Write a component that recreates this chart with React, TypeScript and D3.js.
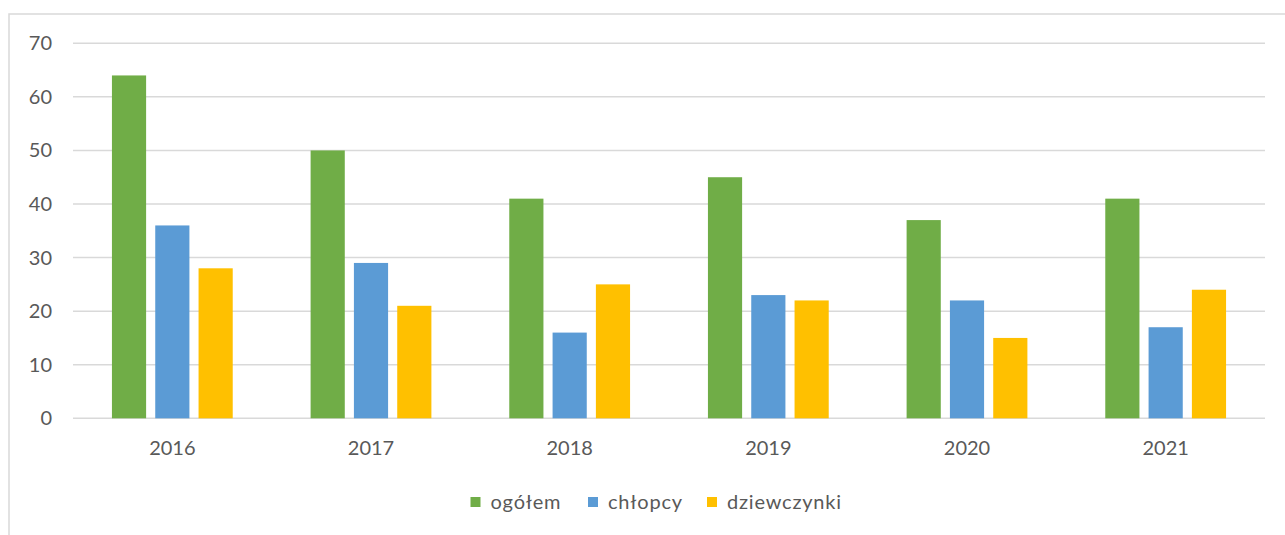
import React from "react";
import * as d3 from "d3";

// data
const years = ["2016", "2017", "2018", "2019", "2020", "2021"];
const seriesNames = ["ogółem", "chłopcy", "dziewczynki"];
const ogolem = [64, 50, 41, 45, 37, 41];
const chlopcy = [36, 29, 16, 23, 22, 17];
const dziewczynki = [28, 21, 25, 22, 15, 24];
const yTicks = [0, 10, 20, 30, 40, 50, 60, 70];

const colors = ["#70AD47", "#5B9BD5", "#FFC000"];
const W = 1285;
const H = 535;
const font = "Lato, 'Open Sans', sans-serif";

export default function App() {
  const series = [ogolem, chlopcy, dziewczynki];
  const plot = { left: 73, right: 1265, top: 43.3, bottom: 418.3 };

  const x = d3.scaleBand().domain(years).range([plot.left, plot.right]).paddingInner(0).paddingOuter(0);
  const y = d3.scaleLinear().domain([0, 70]).range([plot.bottom, plot.top]);

  const step = x.step();
  const barW = step * 0.172;
  const gap = step * 0.046;
  const groupW = 3 * barW + 2 * gap;

  // legend layout
  const legendY = 502;
  const legendX = [470.5, 588, 707];

  return (
    <svg width={W} height={H} style={{ position: "absolute", left: 0, top: 0, background: "#fff" }}>
      {/* chart area border (extends beyond the visible frame) */}
      <rect x={9} y={14} width={W + 20} height={H + 20} fill="#fff" stroke="#d9d9d9" strokeWidth={1.5} />

      {/* gridlines */}
      {yTicks.map((t) => (
        <line key={t} x1={plot.left} x2={plot.right} y1={y(t)} y2={y(t)} stroke="#d9d9d9" strokeWidth={1.5} />
      ))}

      {/* y tick labels */}
      {yTicks.map((t) => (
        <text key={"l" + t} x={52} y={y(t)} dy="0.35em" textAnchor="end" fontFamily={font} fontSize={20} fill="#595959">
          {t}
        </text>
      ))}

      {/* bars */}
      {years.map((yr, i) => {
        const gx = (x(yr) as number) + step / 2 - groupW / 2;
        return (
          <g key={yr}>
            {series.map((s, j) => (
              <rect
                key={j}
                x={gx + j * (barW + gap)}
                y={y(s[i])}
                width={barW}
                height={y(0) - y(s[i])}
                fill={colors[j]}
              />
            ))}
          </g>
        );
      })}

      {/* x labels */}
      {years.map((yr) => (
        <text key={"x" + yr} x={(x(yr) as number) + step / 2} y={448} dy="0.35em" textAnchor="middle" fontFamily={font} fontSize={20} fill="#595959">
          {yr}
        </text>
      ))}

      {/* legend */}
      {seriesNames.map((n, j) => (
        <g key={n} transform={`translate(${legendX[j]},${legendY})`}>
          <rect x={0} y={-5} width={10} height={10} fill={colors[j]} />
          <text x={20} y={0} dy="0.35em" fontFamily={font} fontSize={20} letterSpacing={0.8} fill="#595959">
            {n}
          </text>
        </g>
      ))}
    </svg>
  );
}
